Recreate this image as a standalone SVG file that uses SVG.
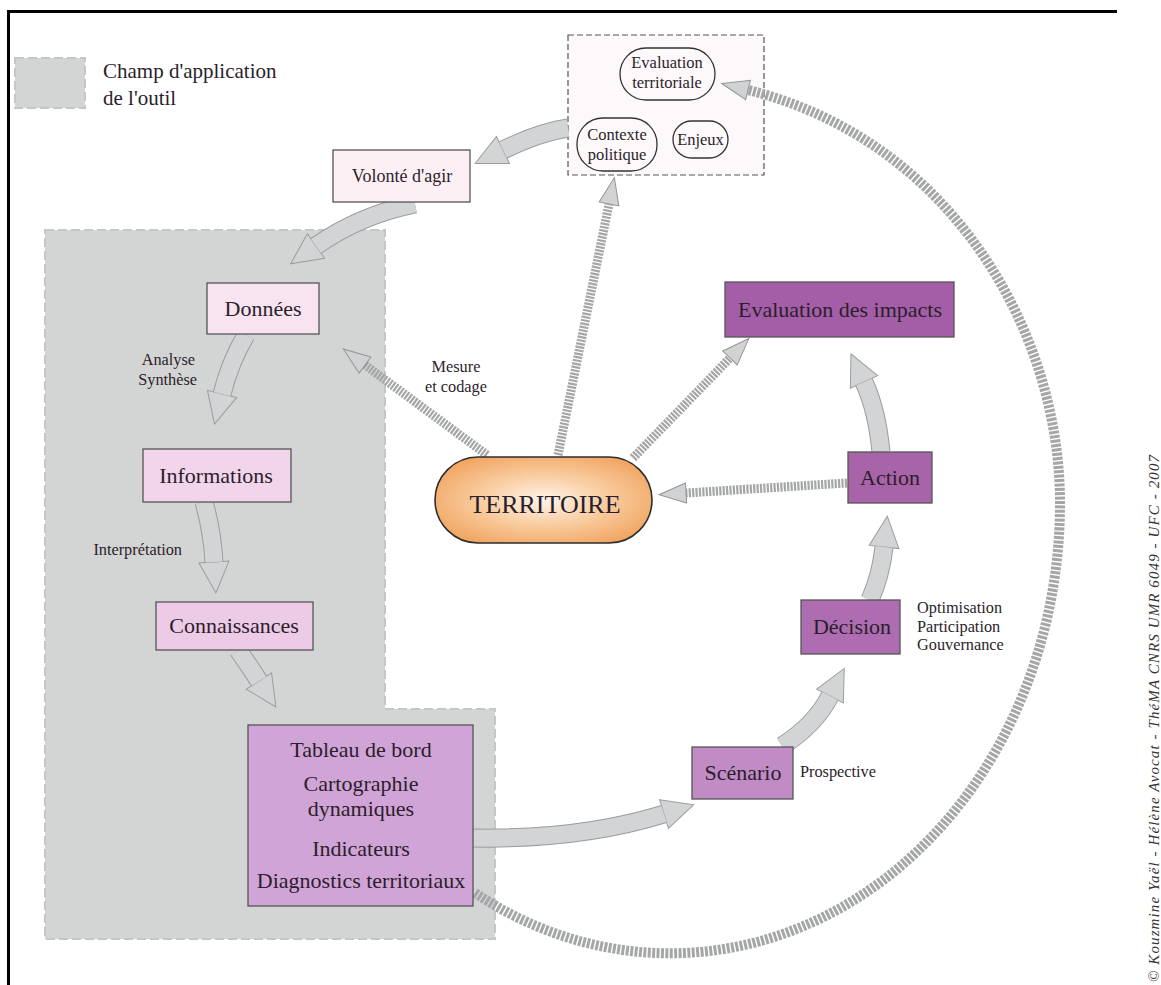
<svg xmlns="http://www.w3.org/2000/svg" width="1161" height="985" viewBox="0 0 1161 985" font-family="'Liberation Serif', 'DejaVu Serif', serif">
<defs>
<style>
text{fill:#2b1e2b;font-family:'Liberation Serif','DejaVu Serif',serif}
.c{text-anchor:middle}
.nt{font-size:22px}
.lb{font-size:16.3px}
.pt{font-size:16.5px}
.n{stroke:#555;stroke-width:1.3}
.scope{fill:#d3d4d4;stroke:#c3c7ca;stroke-width:2;stroke-dasharray:9 4}
.pill{fill:none;stroke:#333;stroke-width:1.3}
.bo{fill:none;stroke:#9c9c9c;stroke-width:19;marker-end:url(#ah)}
.bi{fill:none;stroke:#d2d4d5;stroke-width:17}
.st{fill:none;stroke:#a4a6a7;stroke-width:9;stroke-dasharray:2.2 1.2;marker-end:url(#sh)}
</style>
<marker id="ah" markerUnits="userSpaceOnUse" markerWidth="40" markerHeight="40" refX="0" refY="15" orient="auto" overflow="visible"><path d="M0,0 L31,15 L0,30 z" fill="#d2d4d5" stroke="#9c9c9c" stroke-width="1"/></marker>
<marker id="sh" markerUnits="userSpaceOnUse" markerWidth="30" markerHeight="24" refX="0" refY="10" orient="auto" overflow="visible"><path d="M0,0 L27,10 L0,20 z" fill="#d0d2d3" stroke="#939393" stroke-width="1"/></marker>
<radialGradient id="og" cx="0.5" cy="0.5" r="0.6">
<stop offset="0" stop-color="#fef4ea"/><stop offset="0.5" stop-color="#f9cb9e"/><stop offset="1" stop-color="#f0a35e"/>
</radialGradient>
</defs>
<rect width="1161" height="985" fill="#ffffff"/>
<path d="M8.5 985 V11.5 H1117" fill="none" stroke="#000" stroke-width="3"/>

<g id="legend">
<rect class="scope" x="15" y="58" width="70" height="50"/>
<text x="103" y="78" font-size="21">Champ d'application</text>
<text x="103" y="105" font-size="21">de l'outil</text>
</g>

<g id="scope">
<path class="scope" d="M45 230 H385 V709 H495 V939 H45 Z"/>
</g>

<g id="contexte">
<rect x="568" y="35" width="196" height="140" fill="#fdf8fa" stroke="#555" stroke-width="1.2" stroke-dasharray="6 3"/>
<rect class="pill" x="620" y="48" width="95" height="52" rx="26"/>
<text class="c pt" x="667" y="68">Evaluation</text>
<text class="c pt" x="667" y="88">territoriale</text>
<rect class="pill" x="577" y="118" width="80" height="53" rx="26"/>
<text class="c pt" x="617" y="140">Contexte</text>
<text class="c pt" x="617" y="160">politique</text>
<rect class="pill" x="673" y="121" width="55" height="37" rx="18.5"/>
<text class="c pt" x="700.5" y="145">Enjeux</text>
</g>

<g id="connectors">
<path class="bo" d="M568 128 Q540 132 503 150"/><path class="bi" d="M568 128 Q540 132 503 150"/>
<path class="bo" d="M415 204 Q360 215 316 246"/><path class="bi" d="M415 204 Q360 215 316 246"/>
<path class="bo" d="M246 335 Q230 362 222 394"/><path class="bi" d="M246 335 Q230 362 222 394"/>
<path class="bo" d="M204 502 Q212 530 214 562"/><path class="bi" d="M204 502 Q212 530 214 562"/>
<path class="bo" d="M238 650 Q248 664 259 681"/><path class="bi" d="M238 650 Q248 664 259 681"/>
<path class="bo" d="M472 838 Q580 840 664 814"/><path class="bi" d="M472 838 Q580 840 664 814"/>
<path class="bo" d="M782 746 Q815 725 830 696"/><path class="bi" d="M782 746 Q815 725 830 696"/>
<path class="bo" d="M870 600 Q881 575 884 547"/><path class="bi" d="M870 600 Q881 575 884 547"/>
<path class="bo" d="M881 452 Q877 410 864 382"/><path class="bi" d="M881 452 Q877 410 864 382"/>
<path class="st" d="M487 455 L365 365"/>
<path class="st" d="M558 455 L609 204"/>
<path class="st" d="M633 458 L730 358"/>
<path class="st" d="M847 483 L686 493"/>
<path class="st" style="stroke-width:10;stroke-dasharray:3 1.4" d="M475 893 A390 450 0 0 0 1060 503 C1060 330 950 140 748 90"/>
</g>

<g id="volonte">
<rect class="n" x="333" y="150" width="137" height="52" fill="#fcf0f5"/>
<text class="c" x="402" y="182" font-size="18">Volonté d'agir</text>
</g>
<g id="donnees">
<rect class="n" x="207" y="283" width="112" height="51" fill="#f8e4f0"/>
<text class="c nt" x="263" y="316">Données</text>
</g>
<g id="informations">
<rect class="n" x="143" y="449" width="148" height="53" fill="#f2d5eb"/>
<text class="c nt" x="216" y="483">Informations</text>
</g>
<g id="connaissances">
<rect class="n" x="156" y="602" width="157" height="48" fill="#edcbe7"/>
<text class="c nt" x="234" y="633">Connaissances</text>
</g>
<g id="outils">
<rect class="n" x="248" y="725" width="225" height="181" fill="#d0a4d7"/>
<text class="c nt" x="361" y="757">Tableau de bord</text>
<text class="c nt" x="361" y="791">Cartographie</text>
<text class="c nt" x="361" y="816">dynamiques</text>
<text class="c nt" x="361" y="856">Indicateurs</text>
<text class="c nt" x="361" y="888">Diagnostics territoriaux</text>
</g>
<g id="labels">
<text class="lb" x="195" y="365" text-anchor="end">Analyse</text>
<text class="lb" x="197" y="385" text-anchor="end">Synthèse</text>
<text class="lb" x="182" y="555" text-anchor="end">Interprétation</text>
<text class="c lb" x="456" y="372">Mesure</text>
<text class="c lb" x="456" y="392">et codage</text>
</g>

<g id="territoire">
<rect x="435" y="457" width="217" height="86" rx="43" fill="url(#og)" stroke="#2d2d2d" stroke-width="1.6"/>
<text class="c" x="545" y="513" font-size="26">TERRITOIRE</text>
</g>

<g id="evaluation-impacts">
<rect class="n" x="725" y="282" width="229" height="55" fill="#a35ea7"/>
<text class="c nt" x="840" y="317">Evaluation des impacts</text>
</g>
<g id="action">
<rect class="n" x="848" y="452" width="84" height="51" fill="#a864a9"/>
<text class="c nt" x="890" y="485">Action</text>
</g>
<g id="decision">
<rect class="n" x="801" y="600" width="99" height="54" fill="#ad6db0"/>
<text class="c nt" x="852" y="634">Décision</text>
<text class="lb" x="917" y="613">Optimisation</text>
<text class="lb" x="917" y="632">Participation</text>
<text class="lb" x="917" y="650">Gouvernance</text>
</g>
<g id="scenario">
<rect class="n" x="692" y="747" width="101" height="52" fill="#c18bc5"/>
<text class="c nt" x="743" y="780">Scénario</text>
<text class="lb" x="800" y="777">Prospective</text>
</g>

<text transform="translate(1159 982) rotate(-90)" font-size="15" font-style="italic" style="fill:#333" textLength="527" lengthAdjust="spacing">© Kouzmine Yaël - Hélène Avocat - ThéMA CNRS UMR 6049 - UFC - 2007</text>
</svg>
